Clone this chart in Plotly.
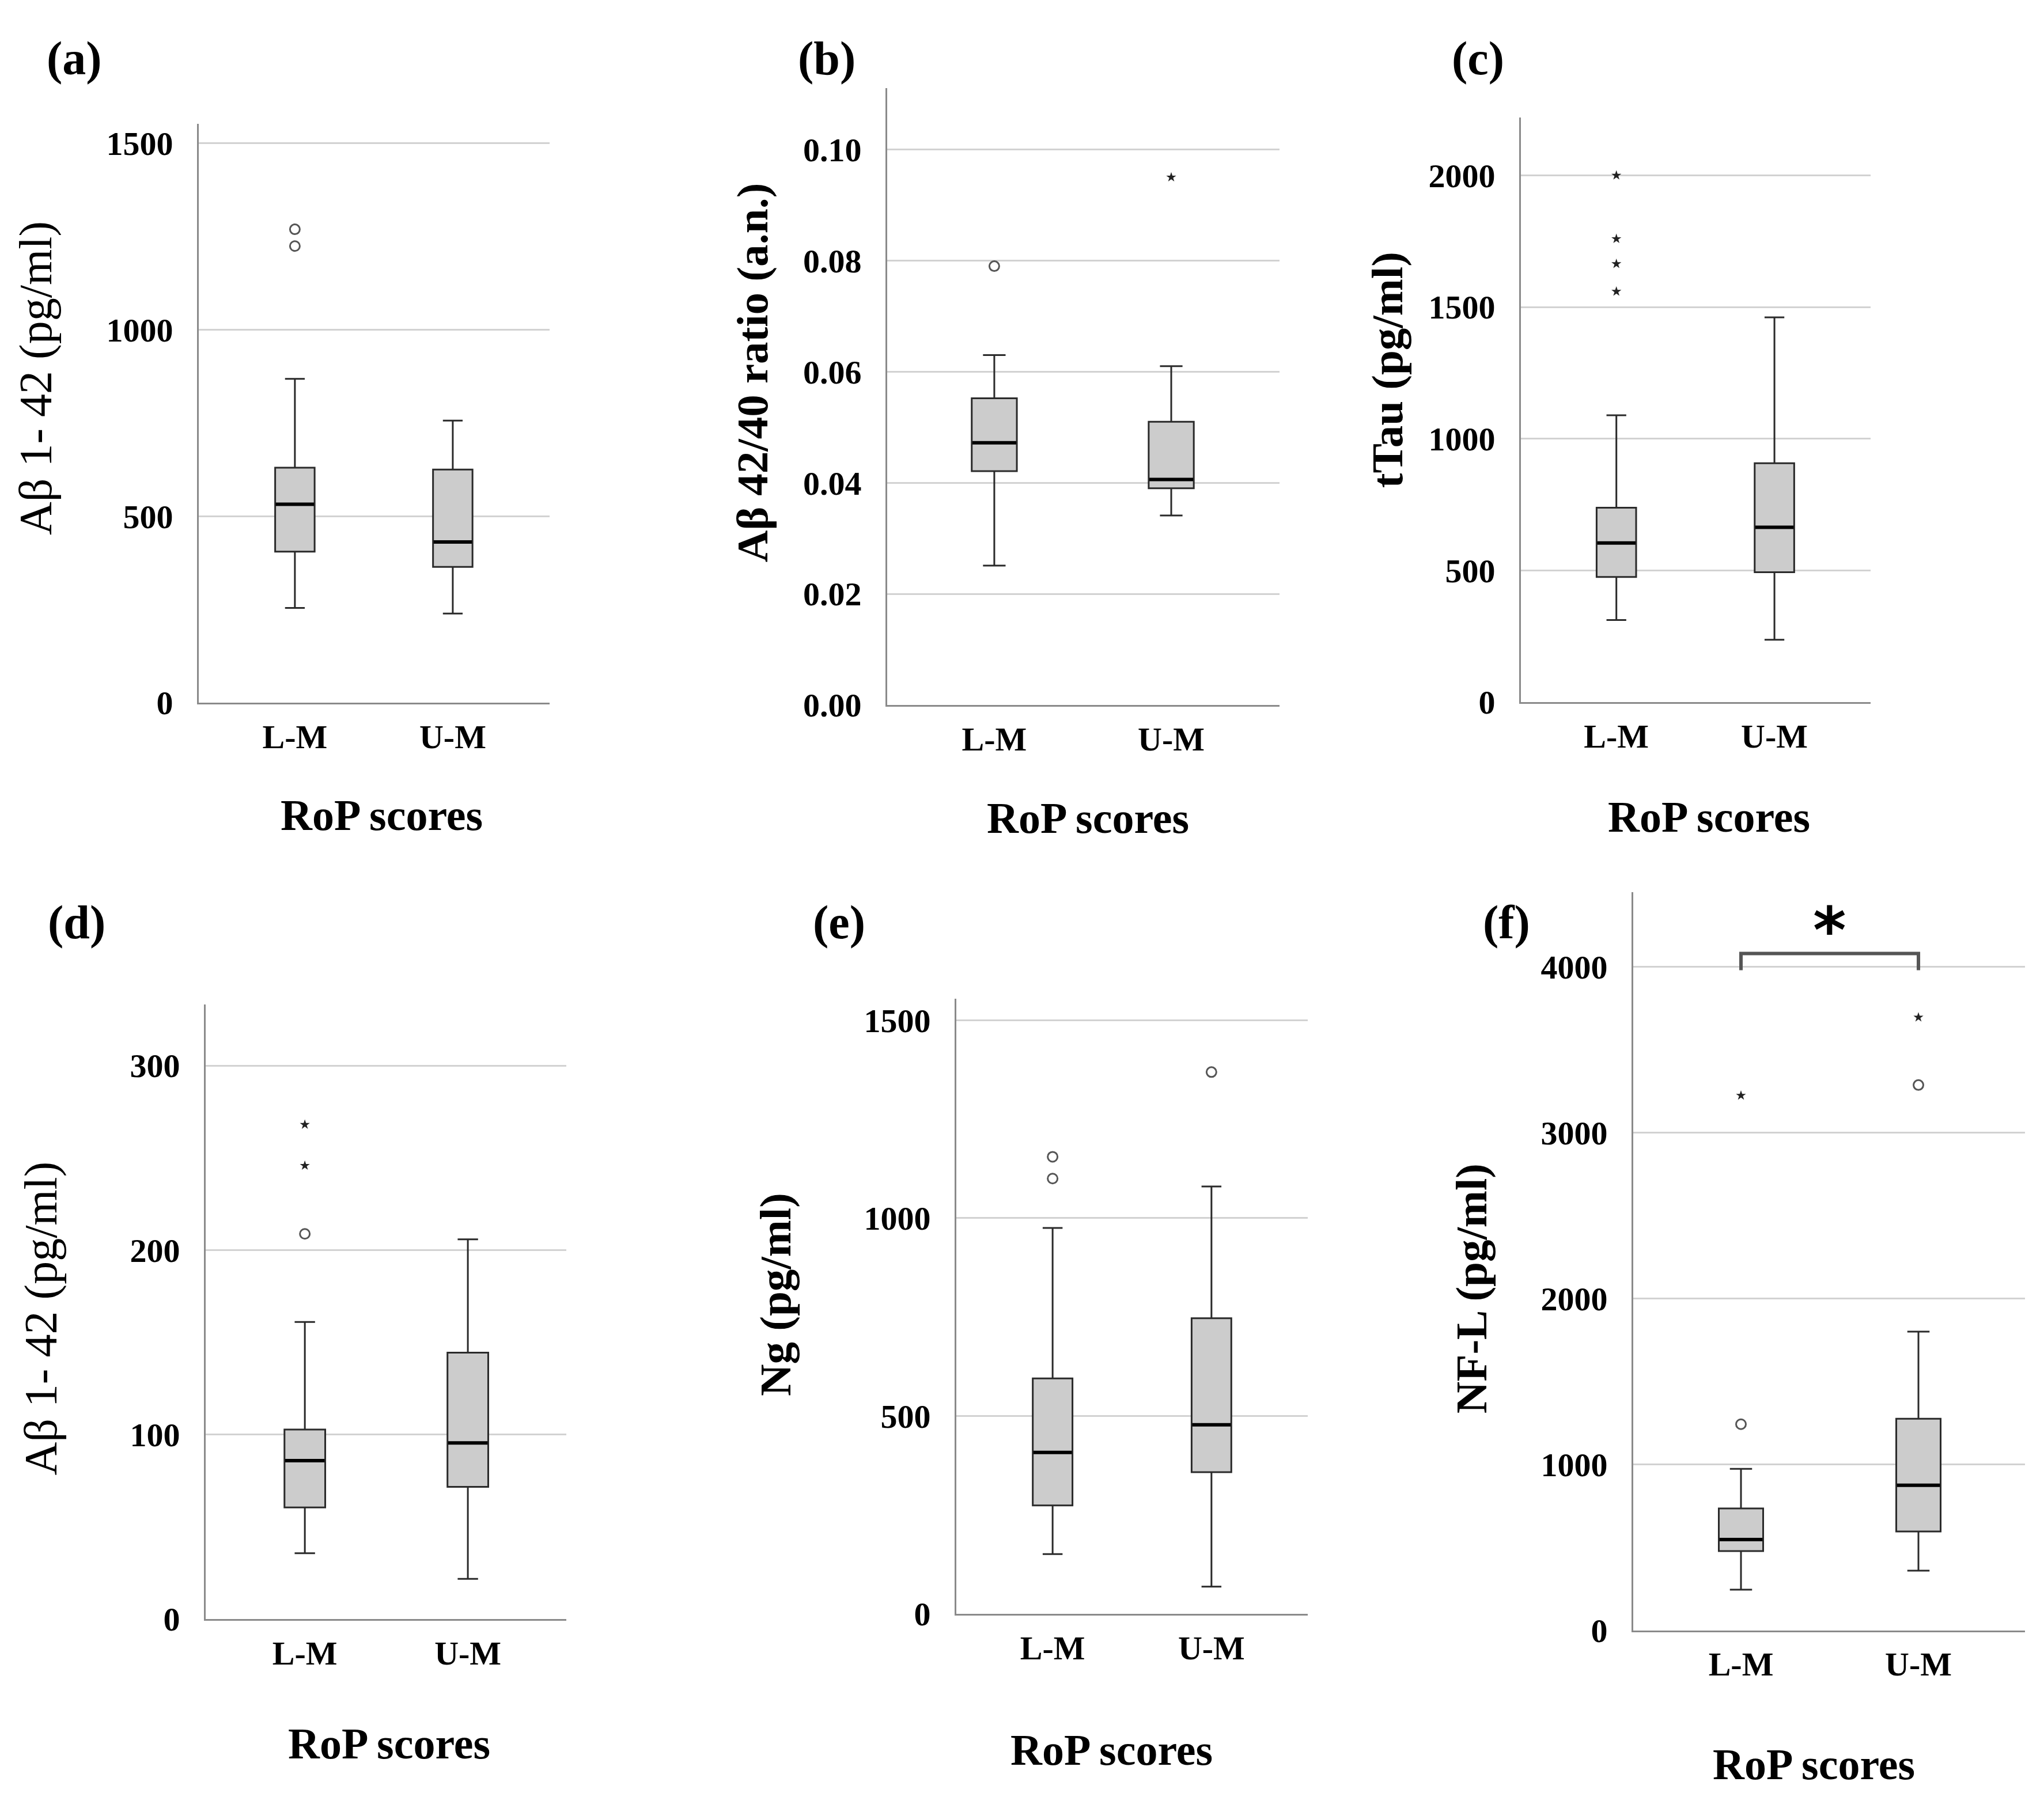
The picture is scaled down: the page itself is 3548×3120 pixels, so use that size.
import plotly.graph_objects as go

categories = ['L-M', 'U-M']

# (a) Aβ 1-42
a_lower = [254, 239]
a_q1 = [405, 364]
a_median = [532, 431]
a_q3 = [630, 625]
a_upper = [868, 756]
a_circle_x = ['L-M', 'L-M']
a_circle_y = [1269, 1224]
a_star_x = []
a_star_y = []
a_ticks = [0, 500, 1000, 1500]
a_ticktext = ['0', '500', '1000', '1500']

# (b) Aβ 42/40 ratio
b_lower = [0.0251, 0.0341]
b_q1 = [0.0421, 0.0390]
b_median = [0.0472, 0.0406]
b_q3 = [0.0552, 0.0510]
b_upper = [0.0630, 0.0610]
b_circle_x = ['L-M']
b_circle_y = [0.0790]
b_star_x = ['U-M']
b_star_y = [0.0950]
b_ticks = [0, 0.02, 0.04, 0.06, 0.08, 0.10]
b_ticktext = ['0.00', '0.02', '0.04', '0.06', '0.08', '0.10']

# (c) tTau
c_lower = [312, 237]
c_q1 = [475, 493]
c_median = [604, 664]
c_q3 = [738, 907]
c_upper = [1089, 1461]
c_circle_x = []
c_circle_y = []
c_star_x = ['L-M', 'L-M', 'L-M', 'L-M']
c_star_y = [2000, 1759, 1664, 1559]
c_ticks = [0, 500, 1000, 1500, 2000]
c_ticktext = ['0', '500', '1000', '1500', '2000']

# (d) Aβ 1-42
d_lower = [35.7, 21.8]
d_q1 = [60.5, 71.7]
d_median = [85.9, 95.5]
d_q3 = [102.7, 144.4]
d_upper = [161, 205.8]
d_circle_x = ['L-M']
d_circle_y = [208.8]
d_star_x = ['L-M', 'L-M']
d_star_y = [268, 245.8]
d_ticks = [0, 100, 200, 300]
d_ticktext = ['0', '100', '200', '300']

# (e) Ng
e_lower = [151, 69]
e_q1 = [274, 358]
e_median = [408, 478]
e_q3 = [595, 747]
e_upper = [975, 1080]
e_circle_x = ['L-M', 'L-M', 'U-M']
e_circle_y = [1155, 1100, 1369]
e_star_x = []
e_star_y = []
e_ticks = [0, 500, 1000, 1500]
e_ticktext = ['0', '500', '1000', '1500']

# (f) NF-L
f_lower = [246, 360]
f_q1 = [478, 596]
f_median = [548, 875]
f_q3 = [735, 1276]
f_upper = [974, 1801]
f_circle_x = ['L-M', 'U-M']
f_circle_y = [1243, 3287]
f_star_x = ['L-M', 'U-M']
f_star_y = [3224, 3695]
f_ticks = [0, 1000, 2000, 3000, 4000]
f_ticktext = ['0', '1000', '2000', '3000', '4000']
f_bracket_low = 3979
f_bracket_high = 4080
f_sig_label = '*'

W, H = 3548, 3120
FONT = 'Liberation Serif'


def px_x(p):
    return p / W


def px_y(p):
    return 1 - p / H


panels = [
    dict(lower=a_lower, q1=a_q1, med=a_median, q3=a_q3, upper=a_upper,
         cx=a_circle_x, cy=a_circle_y, sx=a_star_x, sy=a_star_y,
         ticks=a_ticks, ticktext=a_ticktext,
         xd=(337, 946), yd=(209, 1225), ytop=1552, fr=(0.274, 0.724), bw=0.25),
    dict(lower=b_lower, q1=b_q1, med=b_median, q3=b_q3, upper=b_upper,
         cx=b_circle_x, cy=b_circle_y, sx=b_star_x, sy=b_star_y,
         ticks=b_ticks, ticktext=b_ticktext,
         xd=(1532, 2213), yd=(147, 1229), ytop=0.111, fr=(0.273, 0.724), bw=0.255),
    dict(lower=c_lower, q1=c_q1, med=c_median, q3=c_q3, upper=c_upper,
         cx=c_circle_x, cy=c_circle_y, sx=c_star_x, sy=c_star_y,
         ticks=c_ticks, ticktext=c_ticktext,
         xd=(2632, 3239), yd=(198, 1224), ytop=2220, fr=(0.273, 0.725), bw=0.25),
    dict(lower=d_lower, q1=d_q1, med=d_median, q3=d_q3, upper=d_upper,
         cx=d_circle_x, cy=d_circle_y, sx=d_star_x, sy=d_star_y,
         ticks=d_ticks, ticktext=d_ticktext,
         xd=(349, 975), yd=(1755, 2833), ytop=333, fr=(0.275, 0.727), bw=0.25),
    dict(lower=e_lower, q1=e_q1, med=e_median, q3=e_q3, upper=e_upper,
         cx=e_circle_x, cy=e_circle_y, sx=e_star_x, sy=e_star_y,
         ticks=e_ticks, ticktext=e_ticktext,
         xd=(1652, 2262), yd=(1744, 2824), ytop=1555, fr=(0.274, 0.726), bw=0.25),
    dict(lower=f_lower, q1=f_q1, med=f_median, q3=f_q3, upper=f_upper,
         cx=f_circle_x, cy=f_circle_y, sx=f_star_x, sy=f_star_y,
         ticks=f_ticks, ticktext=f_ticktext,
         xd=(2827, 3507), yd=(1557, 2853), ytop=4451, fr=(0.275, 0.728), bw=0.25),
]

fig = go.Figure()
layout_axes = {}

for i, p in enumerate(panels, start=1):
    xa = 'x' if i == 1 else f'x{i}'
    ya = 'y' if i == 1 else f'y{i}'
    fig.add_trace(go.Box(
        x=categories, q1=p['q1'], median=p['med'], q3=p['q3'],
        lowerfence=p['lower'], upperfence=p['upper'],
        fillcolor='#cccccc', line=dict(color='#2a2a2a', width=3),
        width=p['bw'], whiskerwidth=0.5, boxpoints=False,
        xaxis=xa, yaxis=ya, showlegend=False, hoverinfo='skip'))
    # thick median line (degenerate box at the median)
    fig.add_trace(go.Box(
        x=categories, q1=p['med'], median=p['med'], q3=p['med'],
        lowerfence=p['med'], upperfence=p['med'],
        fillcolor='black', line=dict(color='black', width=6),
        width=p['bw'] * 0.97, whiskerwidth=0, boxpoints=False,
        xaxis=xa, yaxis=ya, showlegend=False, hoverinfo='skip'))
    if p['cx']:
        fig.add_trace(go.Scatter(
            x=p['cx'], y=p['cy'], mode='markers',
            marker=dict(symbol='circle-open', size=17, color='#555555',
                        line=dict(width=3, color='#555555')),
            xaxis=xa, yaxis=ya, showlegend=False, hoverinfo='skip'))
    if p['sx']:
        fig.add_trace(go.Scatter(
            x=p['sx'], y=p['sy'], mode='markers',
            marker=dict(symbol='star', size=13, color='#222222'),
            xaxis=xa, yaxis=ya, showlegend=False, hoverinfo='skip'))

    f0, f1 = p['fr']
    span = 1.0 / (f1 - f0)
    xlo = -f0 * span
    xhi = xlo + span
    layout_axes['xaxis' if i == 1 else f'xaxis{i}'] = dict(
        domain=[px_x(p['xd'][0]), px_x(p['xd'][1])],
        anchor=ya, type='category', categoryorder='array', categoryarray=categories,
        range=[xlo, xhi], showline=True, linecolor='#8a8a8a', linewidth=3,
        showgrid=False, zeroline=False, ticks='', ticklabelstandoff=6,
        tickfont=dict(family=FONT, size=58, color='black', weight='bold'),
        fixedrange=True)
    layout_axes['yaxis' if i == 1 else f'yaxis{i}'] = dict(
        domain=[px_y(p['yd'][1]), px_y(p['yd'][0])],
        anchor=xa, range=[0, p['ytop']], tickvals=p['ticks'], ticktext=p['ticktext'],
        showline=True, linecolor='#8a8a8a', linewidth=3,
        showgrid=True, gridcolor='#d2d2d2', gridwidth=3, zeroline=False,
        ticks='', ticklabelstandoff=30,
        tickfont=dict(family=FONT, size=58, color='black', weight='bold'),
        fixedrange=True)

# significance bracket for (f)
fig.add_trace(go.Scatter(
    x=['L-M', 'L-M', 'U-M', 'U-M'],
    y=[f_bracket_low, f_bracket_high, f_bracket_high, f_bracket_low],
    mode='lines', line=dict(color='#555555', width=6),
    xaxis='x6', yaxis='y6', showlegend=False, hoverinfo='skip'))

annotations = []

# panel labels
for lab, x, y in [('(a)', 121, 94), ('(b)', 1427, 94), ('(c)', 2557, 94),
                  ('(d)', 125, 1611), ('(e)', 1448, 1611), ('(f)', 2607, 1611)]:
    annotations.append(dict(text=f'<b>{lab}</b>', x=px_x(x), y=px_y(y), xref='paper', yref='paper',
                            showarrow=False, xanchor='center', yanchor='middle',
                            font=dict(family=FONT, size=82, color='black')))

# y-axis titles
for txt, x, y, bold in [('Aβ 1- 42 (pg/ml)', 54, 656, False),
                        ('Aβ 42/40 ratio (a.n.)', 1298, 646, True),
                        ('tTau (pg/ml)', 2400, 641, True),
                        ('Aβ 1- 42 (pg/ml)', 64, 2306, False),
                        ('Ng (pg/ml)', 1338, 2264, True),
                        ('NF-L (pg/ml)', 2546, 2253, True)]:
    annotations.append(dict(text=f'<b>{txt}</b>' if bold else txt, x=px_x(x), y=px_y(y),
                            xref='paper', yref='paper', showarrow=False, textangle=-90,
                            xanchor='center', yanchor='middle',
                            font=dict(family=FONT, size=80 if not bold else 77, color='black')))

# x-axis titles
for x, y in [(654, 1422), (1880, 1427), (2958, 1425), (667, 3051), (1921, 3062), (3140, 3088)]:
    annotations.append(dict(text='<b>RoP scores</b>', x=px_x(x), y=px_y(y), xref='paper', yref='paper',
                            showarrow=False, xanchor='center', yanchor='middle',
                            font=dict(family=FONT, size=76, color='black')))

# significance star
annotations.append(dict(text=f'<b>{f_sig_label}</b>', x=0.5, y=f_bracket_high, xref='x6', yref='y6',
                        showarrow=False, xanchor='center', yanchor='bottom', yshift=-27,
                        font=dict(family='DejaVu Sans', size=110, color='black')))

fig.update_layout(
    width=W, height=H, margin=dict(l=0, r=0, t=0, b=0),
    paper_bgcolor='white', plot_bgcolor='white',
    boxmode='overlay', showlegend=False,
    annotations=annotations, **layout_axes)

fig.write_html('out.html')
